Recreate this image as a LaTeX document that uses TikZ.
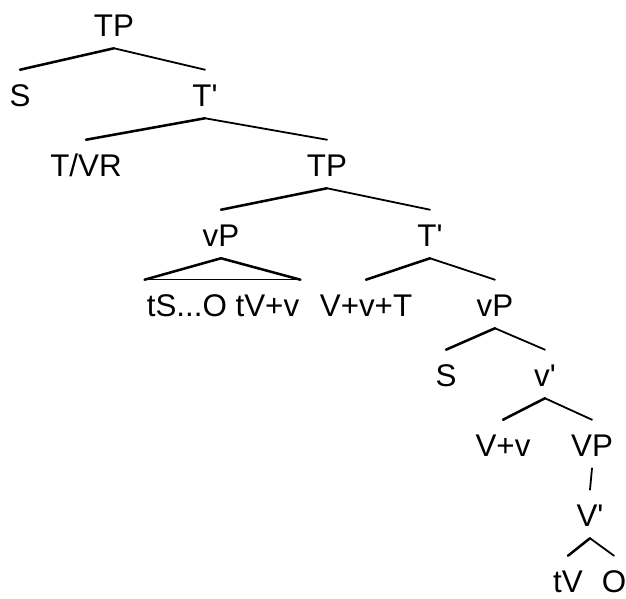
\documentclass[tikz,border=0pt]{standalone}
\usepackage{fontspec}
\setmainfont{Liberation Sans}[Ligatures=TeXOff]
\usepackage{tikz}

\newcommand{\trip}{...}

\tikzset{
  lab/.style={anchor=base,font=\fontsize{23.5}{26}\selectfont,inner xsep=0pt,inner ysep=8.25pt,text height=19.5pt,text depth=0pt},
  leaf/.style={lab,inner ysep=0pt,text height=27.75pt},
  lbranch/.style={black,line width=1.9pt},
  rbranch/.style={black,line width=1.35pt}
}

\begin{document}
\begin{tikzpicture}[x=0.75pt,y=-0.75pt,line cap=round,line join=round]
\useasboundingbox (0,0) rectangle (626,599);

% labels, one row every 70px
\foreach \n/\x/\y/\t in {tpa/114/37/TP, sa/20/107/S, tba/205/107/T', tvr/86/177/{T/VR}, tpb/327/177/TP,
  vpa/221/247/vP, tbb/430/247/T', tso/223/317/{tS\trip O tV+v}, vvt/366/317/V+v+T, vpb/495/317/vP,
  sb/446/387/S, vba/545/387/v', vv/503/457/V+v, vpc/592/457/VP, vbb/590/527/V'}
\node[lab] (\n) at (\x,\y) {\t};
\node[leaf] (tv) at (568,593) {tV};
\node[leaf] (o) at (614,593) {O};

% left and right branches
\foreach \a/\b in {tpa/sa, tba/tvr, tpb/vpa, tbb/vvt, vpb/sb, vba/vv, vbb/tv}
\draw[lbranch] (\a.south) -- (\b.north);
\foreach \a/\b in {tpa/tba, tba/tpb, tpb/tbb, tbb/vpb, vpb/vba, vba/vpc, vbb/o}
\draw[rbranch] (\a.south) -- (\b.north);
\draw[rbranch] (vpc.south) -- (vbb.north);

% roof over the unanalysed vP
\draw[lbranch] ([xshift=-1.5pt]tso.north west) -- (vpa.south) -- ([xshift=0.75pt]tso.north east);
\draw[black,line width=1.1pt] ([xshift=-1.5pt]tso.north west) -- ([xshift=0.75pt]tso.north east);

\end{tikzpicture}
\end{document}
